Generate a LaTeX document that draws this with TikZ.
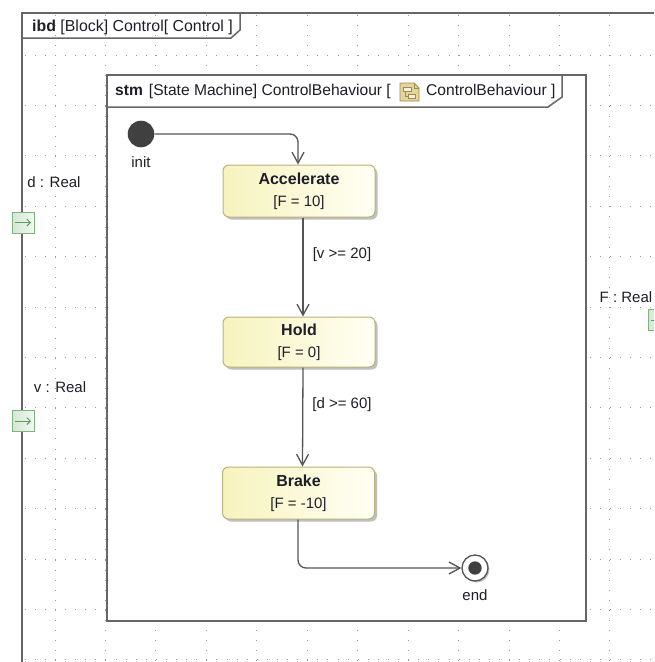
\documentclass[tikz,border=0pt]{standalone}
\usepackage{fontspec}
\setmainfont{Liberation Sans}
\usetikzlibrary{arrows.meta,shadows}
\definecolor{framecol}{HTML}{666666}
\definecolor{linecol}{HTML}{555555}
\definecolor{dotcol}{HTML}{9A9A9A}
\definecolor{txtcol}{HTML}{1E1E28}
\definecolor{stateborder}{HTML}{B9B27A}
\definecolor{stateA}{HTML}{F7F3BE}
\definecolor{stateB}{HTML}{FFFFF4}
\definecolor{portborder}{HTML}{7DB47D}
\definecolor{portfillA}{HTML}{D5E6D5}
\definecolor{portfillB}{HTML}{F2F7F2}
\definecolor{portarrow}{HTML}{5C9E5C}
\definecolor{pseudo}{HTML}{404040}
\definecolor{iconfill}{HTML}{E6D49A}
\definecolor{iconborder}{HTML}{9C8A55}
\tikzset{
  regtext/.style={font=\fontsize{15}{18}\selectfont, text=txtcol, inner sep=0pt},
  headtext/.style={font=\fontsize{15.9}{18}\selectfont, text=txtcol, inner sep=0pt},
  statebox/.style={draw=stateborder, line width=1pt, rounded corners=6pt,
     left color=stateA, right color=stateB, minimum width=152pt, minimum height=51pt,
     align=center, inner sep=0pt, font=\fontsize{15}{18}\selectfont, text=txtcol,
     drop shadow={shadow xshift=2.5pt, shadow yshift=-2.5pt, opacity=0.25, fill=black}},
  portbox/.style={draw=portborder, line width=1pt, left color=portfillA, right color=portfillB,
     minimum width=22pt, minimum height=21pt, inner sep=0pt},
  portarr/.style={portarrow, line width=1pt, -{Straight Barb[length=3.5pt,width=7pt]}},
  conn/.style={linecol, line width=1.3pt, -{Straight Barb[length=11pt,width=12pt]}},
  framebox/.style={framecol, line width=1.5pt},
  gridline/.style={dotcol, line width=1pt, dash pattern=on 1pt off 9.09pt},
}
\begin{document}
\begin{tikzpicture}[x=1pt,y=-1pt]
\useasboundingbox (0,0) rectangle (654,662);
\clip (0,0) rectangle (654,662);
% grid
\begin{scope}
\clip (22,13) rectangle (654,662);
\foreach \k in {0,...,12} \draw[gridline] ({55+50.45*\k},4.6) -- ({55+50.45*\k},662);
\foreach \k in {0,...,12} \draw[gridline] (4.55,{55+50.4*\k}) -- (654,{55+50.4*\k});
\end{scope}
% ibd frame
\draw[framebox] (654,13) -- (22,13) -- (22,662);
\draw[framebox] (22,38) -- (231,38) -- (240,30) -- (240,13);
\node[headtext, anchor=base west] (ibdhead) at (32,31) {{\bfseries ibd} [Block] Control[ Control ]};
% stm frame
\draw[framebox, fill=white] (107,75) rectangle (586,621);
\draw[framebox] (107,107) -- (548,107) -- (562,97) -- (562,75);
\node[headtext, font=\fontsize{15.6}{18}\selectfont, anchor=base west] (stmhead) at (115,95) {{\bfseries stm}\hspace{6pt}[State Machine] ControlBehaviour [};
\draw[iconborder, fill=iconfill, line width=0.8pt] (400,83) -- (414,83) -- (419,88) -- (419,101) -- (400,101) -- cycle;
\draw[iconborder, line width=0.6pt] (414,83) -- (414,88) -- (419,88);
\draw[iconborder, fill=white!70!iconfill, line width=0.6pt] (403,87) rectangle (411,91);
\draw[iconborder, fill=white!70!iconfill, line width=0.6pt] (408,94) rectangle (415,98);
\draw[iconborder, line width=0.6pt] (405,91) -- (405,96) -- (408,96);
\node[headtext, font=\fontsize{15.6}{18}\selectfont, anchor=base west] (stmhead2) at (426,95) {ControlBehaviour ]};
% pseudo states
\node[circle, fill=pseudo, minimum size=26.6pt, inner sep=0pt] (init) at (141,134) {};
\node[regtext] (initlbl) at (141,162) {init};
\node[circle, draw=linecol, line width=1.3pt, fill=white, minimum size=26pt, inner sep=0pt,
      drop shadow={shadow xshift=1.5pt, shadow yshift=-1.5pt, opacity=0.25, fill=black}] (end) at (475,568) {};
\node[circle, fill=pseudo, minimum size=13.4pt, inner sep=0pt] (endin) at (end.center) {};
\node[regtext] (endlbl) at (475,595) {end};
% states
\node[statebox, minimum height=52pt] (acc) at (299,191) {{\fontsize{16}{18}\selectfont\bfseries Accelerate}\\[4pt]{}[F = 10]};
\node[statebox, minimum height=50pt] (hold) at (299,342) {{\fontsize{16}{18}\selectfont\bfseries Hold}\\[4pt]{}[F = 0]};
\node[statebox, minimum height=52pt] (brake) at (298.5,493) {{\fontsize{16}{18}\selectfont\bfseries Brake}\\[4pt]{}[F = -10]};
% transitions
\draw[conn, rounded corners=8pt] (init.east) -| ([xshift=-1pt]acc.north);
\draw[conn] ([xshift=4pt]acc.south) -- ([xshift=4pt]hold.north);
\draw[conn] ([xshift=4pt]hold.south) -- ([xshift=4pt]brake.north);
\draw[conn, rounded corners=8pt] ([xshift=-0.5pt]brake.south) |- (end.west);
\node[regtext] (g1) at (342,255) {[v >= 20]};
\node[regtext] (g2) at (342,405) {[d >= 60]};
% ports
\node[portbox] (dport) at (23,222.5) {};
\draw[portarr] ([xshift=-8pt]dport.center) -- ([xshift=8pt]dport.center);
\node[regtext] (dlbl) at (54,182) {d : Real};
\node[portbox] (vport) at (23,421) {};
\draw[portarr] ([xshift=-8pt]vport.center) -- ([xshift=8pt]vport.center);
\node[regtext] (vlbl) at (60,387) {v : Real};
\node[portbox] (fport) at (659,320) {};
\draw[portarr] ([xshift=-8pt]fport.center) -- ([xshift=8pt]fport.center);
\node[regtext] (flbl) at (626,297) {F : Real};
\end{tikzpicture}
\end{document}
